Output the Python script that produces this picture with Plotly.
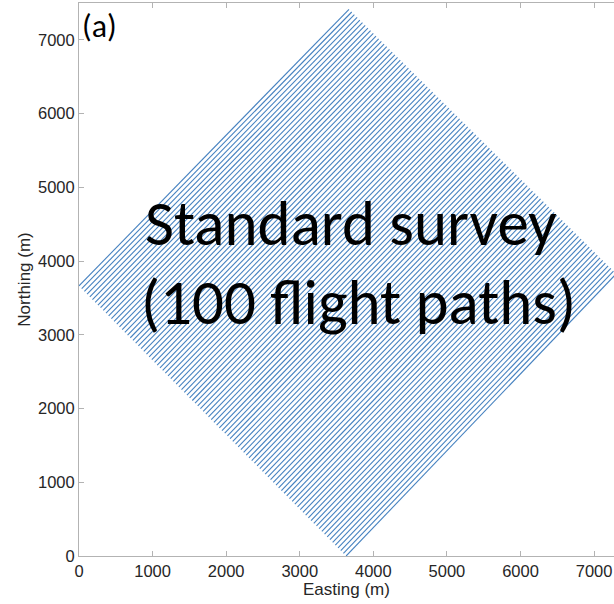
import plotly.graph_objects as go

# Flight path endpoints (m)
start_easting = [0, 37, 73, 110, 147, 183, 220, 257, 293, 330,
                 367, 403, 440, 477, 513, 550, 587, 623, 660, 697,
                 733, 770, 807, 843, 880, 917, 953, 990, 1027, 1063,
                 1100, 1137, 1173, 1210, 1247, 1283, 1320, 1357, 1393, 1430,
                 1467, 1503, 1540, 1577, 1613, 1650, 1687, 1723, 1760, 1797,
                 1833, 1870, 1907, 1943, 1980, 2017, 2053, 2090, 2127, 2163,
                 2200, 2237, 2273, 2310, 2347, 2383, 2420, 2457, 2493, 2530,
                 2567, 2603, 2640, 2677, 2713, 2750, 2787, 2823, 2860, 2897,
                 2933, 2970, 3007, 3043, 3080, 3117, 3153, 3190, 3227, 3263,
                 3300, 3337, 3373, 3410, 3447, 3483, 3520, 3557, 3593, 3630]
start_northing = [3663, 3626, 3589, 3552, 3515, 3478, 3441, 3404, 3367, 3330,
                  3293, 3256, 3219, 3182, 3145, 3108, 3071, 3034, 2997, 2960,
                  2923, 2886, 2849, 2812, 2775, 2738, 2701, 2664, 2627, 2590,
                  2553, 2516, 2479, 2442, 2405, 2368, 2331, 2294, 2257, 2220,
                  2183, 2146, 2109, 2072, 2035, 1998, 1961, 1924, 1887, 1850,
                  1813, 1776, 1739, 1702, 1665, 1628, 1591, 1554, 1517, 1480,
                  1443, 1406, 1369, 1332, 1295, 1258, 1221, 1184, 1147, 1110,
                  1073, 1036, 999, 962, 925, 888, 851, 814, 777, 740,
                  703, 666, 629, 592, 555, 518, 481, 444, 407, 370,
                  333, 296, 259, 222, 185, 148, 111, 74, 37, 0]
end_easting = [3669, 3706, 3742, 3779, 3816, 3852, 3889, 3926, 3962, 3999,
               4036, 4072, 4109, 4146, 4182, 4219, 4256, 4292, 4329, 4366,
               4402, 4439, 4476, 4512, 4549, 4586, 4622, 4659, 4696, 4732,
               4769, 4806, 4842, 4879, 4916, 4952, 4989, 5026, 5062, 5099,
               5136, 5172, 5209, 5246, 5282, 5319, 5356, 5392, 5429, 5466,
               5503, 5540, 5577, 5613, 5650, 5687, 5723, 5760, 5797, 5833,
               5870, 5907, 5943, 5980, 6017, 6053, 6090, 6127, 6163, 6200,
               6237, 6273, 6310, 6347, 6383, 6420, 6457, 6493, 6530, 6567,
               6603, 6640, 6677, 6713, 6750, 6787, 6823, 6860, 6897, 6933,
               6970, 7007, 7043, 7080, 7117, 7153, 7190, 7227, 7263, 7300]
end_northing = [7414, 7378, 7342, 7305, 7269, 7233, 7197, 7160, 7124, 7088,
                7052, 7015, 6979, 6943, 6907, 6871, 6834, 6798, 6762, 6726,
                6690, 6653, 6617, 6581, 6545, 6508, 6472, 6436, 6400, 6363,
                6327, 6291, 6255, 6218, 6182, 6146, 6110, 6074, 6037, 6001,
                5965, 5929, 5892, 5856, 5820, 5784, 5747, 5711, 5675, 5639,
                5603, 5566, 5530, 5494, 5458, 5421, 5385, 5349, 5313, 5276,
                5240, 5204, 5168, 5131, 5095, 5059, 5023, 4987, 4950, 4914,
                4878, 4842, 4805, 4769, 4733, 4697, 4660, 4624, 4588, 4552,
                4516, 4479, 4443, 4407, 4371, 4334, 4298, 4262, 4226, 4189,
                4153, 4117, 4081, 4044, 4008, 3972, 3936, 3900, 3863, 3827]

tick_values = [0, 1000, 2000, 3000, 4000, 5000, 6000, 7000]
tick_labels = ["0", "1000", "2000", "3000", "4000", "5000", "6000", "7000"]

xs, ys = [], []
for x0, y0, x1, y1 in zip(start_easting, start_northing, end_easting, end_northing):
    xs += [x0, x1, None]
    ys += [y0, y1, None]

fig = go.Figure()
fig.add_trace(go.Scatter(x=xs, y=ys, mode="lines",
                         line=dict(color="#4682c0", width=1.1), hoverinfo="skip",
                         showlegend=False))

axis_font = dict(family="Liberation Sans, Arial", size=16.5, color="#262626")
axis_common = dict(showgrid=False, zeroline=False, showline=True, linecolor="#b3b3b3",
                   linewidth=1, ticks="inside", ticklen=5, tickcolor="#b3b3b3",
                   tickfont=axis_font, tickvals=tick_values, ticktext=tick_labels,
                   automargin=False)

fig.update_xaxes(range=[0, 7270], mirror="ticks",
                 title=dict(text="Easting (m)", standoff=4,
                            font=dict(family="Liberation Sans, Arial", size=17, color="#262626")),
                 **axis_common)
fig.update_yaxes(range=[0, 7500], mirror=False,
                 title=dict(text="Northing (m)", standoff=3,
                            font=dict(family="Liberation Sans, Arial", size=17, color="#262626")),
                 **axis_common)

fig.add_annotation(x=0.0, y=1.0, xref="paper", yref="paper", xanchor="left", yanchor="top",
                   xshift=1, yshift=-2,
                   text="(a)", showarrow=False,
                   font=dict(family="Carlito, Lato, Open Sans", size=32, color="black"))
fig.add_annotation(x=0.5075, y=0.6006, xref="paper", yref="paper", xanchor="center", yanchor="middle",
                   text="Standard survey", showarrow=False,
                   font=dict(family="Carlito, Lato, Open Sans", size=63, color="black"))
fig.add_annotation(x=0.5215, y=0.458, xref="paper", yref="paper", xanchor="center", yanchor="middle",
                   text="(100 flight paths)", showarrow=False,
                   font=dict(family="Carlito, Lato, Open Sans", size=63, color="black"))

fig.update_layout(width=614, height=604, margin=dict(l=79, r=0, t=3, b=48),
                  plot_bgcolor="white", paper_bgcolor="white")

fig.write_html("out.html", config={"displayModeBar": False},
               post_script="document.body.style.margin='0';document.body.style.overflow='hidden';")
